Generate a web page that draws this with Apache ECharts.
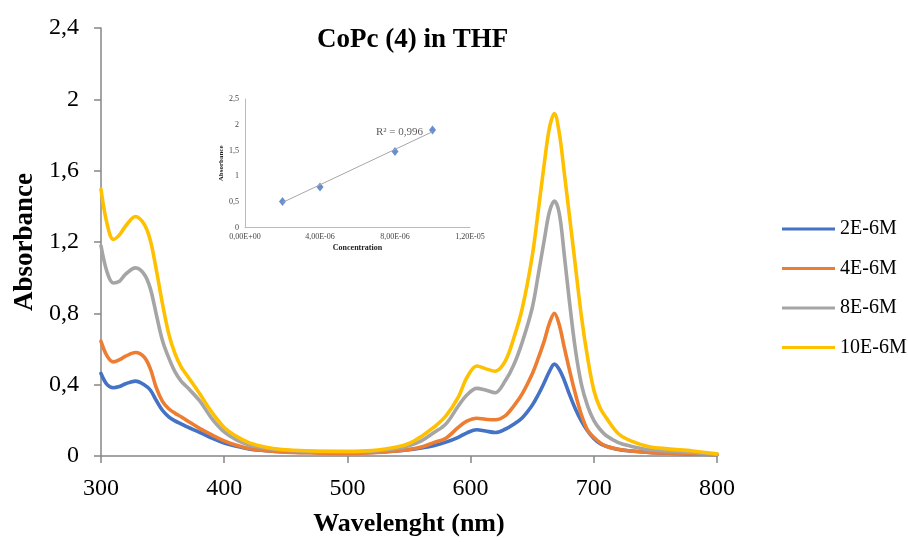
<!DOCTYPE html>
<html>
<head>
<meta charset="utf-8">
<script src="https://cdn.jsdelivr.net/npm/echarts@6/dist/echarts.min.js"></script>
<style>html,body{margin:0;padding:0;background:#fff;}#c{width:908px;height:542px;}</style>
</head>
<body>
<div id="c"></div>
<script>
// Wavelengths (nm)
const wavelengths = [300,305,310,315,320,328,335,340,345,350,355,360,365,370,380,390,400,410,420,430,440,450,470,500,520,540,550,560,570,580,590,597,605,612,620,628,635,642,650,655,660,664,668,672,676,680,685,690,695,700,705,710,720,730,745,760,780,800];
const seriesNames = ['2E-6M','4E-6M','8E-6M','10E-6M'];
const abs2 = [0.463,0.40,0.383,0.39,0.405,0.42,0.40,0.37,0.31,0.255,0.22,0.197,0.18,0.163,0.133,0.10,0.073,0.055,0.04,0.032,0.027,0.024,0.02,0.018,0.02,0.028,0.035,0.045,0.058,0.078,0.105,0.13,0.147,0.14,0.132,0.15,0.178,0.215,0.285,0.345,0.415,0.475,0.515,0.485,0.425,0.35,0.265,0.195,0.14,0.098,0.07,0.055,0.036,0.028,0.02,0.016,0.012,0.008];
const abs4 = [0.643,0.56,0.528,0.54,0.56,0.58,0.555,0.49,0.38,0.305,0.265,0.24,0.22,0.198,0.155,0.118,0.085,0.06,0.042,0.032,0.026,0.022,0.018,0.015,0.018,0.028,0.036,0.05,0.075,0.10,0.16,0.195,0.212,0.206,0.203,0.225,0.28,0.35,0.46,0.55,0.65,0.745,0.80,0.735,0.61,0.49,0.35,0.23,0.145,0.105,0.075,0.055,0.038,0.028,0.02,0.016,0.012,0.008];
const abs8 = [1.179,1.03,0.97,0.98,1.02,1.055,1.02,0.94,0.79,0.645,0.55,0.473,0.42,0.385,0.31,0.21,0.135,0.09,0.062,0.048,0.038,0.032,0.026,0.024,0.027,0.042,0.058,0.085,0.13,0.18,0.28,0.342,0.379,0.37,0.355,0.42,0.51,0.64,0.83,1.02,1.22,1.37,1.43,1.36,1.13,0.88,0.60,0.40,0.28,0.20,0.15,0.115,0.075,0.055,0.035,0.028,0.02,0.01];
const abs10 = [1.495,1.30,1.215,1.24,1.29,1.343,1.30,1.21,1.04,0.85,0.685,0.575,0.50,0.45,0.35,0.245,0.16,0.11,0.075,0.055,0.042,0.035,0.028,0.026,0.03,0.05,0.07,0.11,0.16,0.225,0.33,0.44,0.505,0.49,0.475,0.53,0.66,0.83,1.12,1.38,1.65,1.84,1.92,1.81,1.59,1.36,1.07,0.78,0.55,0.37,0.27,0.215,0.125,0.085,0.052,0.04,0.028,0.012];
const colors = ['#4472C4','#ED7D31','#A5A5A5','#FFC000'];

// Inset calibration data
const concentrations = [2e-6,4e-6,8e-6,1e-5];
const peakAbs = [0.51,0.79,1.48,1.90];
const trendX = [2e-6,1e-5];
const trendY = [0.49,1.865];
const r2Text = 'R² = 0,996';

const font = 'Liberation Serif';
const comma = v => String(v).replace('.', ',');
const sci = v => {
  const parts = v.toExponential(2).split('e');
  const m = parts[0].replace('.', ',');
  let e = parseInt(parts[1], 10);
  const sign = e < 0 ? '-' : '+';
  e = Math.abs(e);
  return m + 'E' + sign + (e < 10 ? '0' + e : e);
};
const allSeries = [abs2, abs4, abs8, abs10];

const chart = echarts.init(document.getElementById('c'));
chart.setOption({
  animation: false,
  title: {
    text: 'CoPc (4) in THF', left: 317, top: 27, padding: 0,
    textStyle: { fontFamily: font, fontWeight: 'bold', fontSize: 27, color: '#000' }
  },
  legend: {
    orient: 'vertical', left: 777, top: 214, icon: 'rect', itemWidth: 53, itemHeight: 3, itemGap: 19.5,
    data: seriesNames,
    textStyle: { fontFamily: font, fontSize: 20, color: '#000' }
  },
  grid: [
    { left: 101, right: 191, top: 28, bottom: 84 },
    { left: 245, width: 225, top: 99, height: 128.7 }
  ],
  xAxis: [
    {
      type: 'value', min: 300, max: 800, interval: 100, gridIndex: 0,
      name: 'Wavelenght (nm)', nameLocation: 'middle', nameGap: 55,
      nameTextStyle: { fontFamily: font, fontWeight: 'bold', fontSize: 26, color: '#000' },
      axisLine: { lineStyle: { color: '#868686', width: 1.5 } },
      axisTick: { show: true, length: 7, lineStyle: { color: '#868686', width: 1.5 } },
      axisLabel: { fontFamily: font, fontSize: 24, color: '#000', margin: 21 },
      splitLine: { show: false }
    },
    {
      type: 'value', min: 0, max: 1.2e-5, interval: 4e-6, gridIndex: 1,
      name: 'Concentration', nameLocation: 'middle', nameGap: 16,
      nameTextStyle: { fontFamily: font, fontWeight: 'bold', fontSize: 8, color: '#222' },
      axisLine: { lineStyle: { color: '#bbb', width: 1 } },
      axisTick: { show: false },
      axisLabel: { fontFamily: font, fontSize: 8, color: '#444', margin: 5, formatter: sci },
      splitLine: { show: false }
    }
  ],
  yAxis: [
    {
      type: 'value', min: 0, max: 2.4, interval: 0.4, gridIndex: 0,
      name: 'Absorbance', nameLocation: 'middle', nameGap: 57,
      nameTextStyle: { fontFamily: font, fontWeight: 'bold', fontSize: 27, color: '#000' },
      axisLine: { show: true, lineStyle: { color: '#868686', width: 1.5 } },
      axisTick: { show: true, length: 7, lineStyle: { color: '#868686', width: 1.5 } },
      axisLabel: { fontFamily: font, fontSize: 24, color: '#000', margin: 22, formatter: v => comma(+v.toFixed(1)) },
      splitLine: { show: false }
    },
    {
      type: 'value', min: 0, max: 2.5, interval: 0.5, gridIndex: 1,
      name: 'Absorbance', nameLocation: 'middle', nameGap: 20,
      nameTextStyle: { fontFamily: font, fontWeight: 'bold', fontSize: 7, color: '#222' },
      axisLine: { show: true, lineStyle: { color: '#bbb', width: 1 } },
      axisTick: { show: false },
      axisLabel: { fontFamily: font, fontSize: 8, color: '#444', margin: 6, formatter: v => comma(v) },
      splitLine: { show: false }
    }
  ],
  series: seriesNames.map((n, i) => ({
    name: n, type: 'line', xAxisIndex: 0, yAxisIndex: 0, smooth: 0.35, symbol: 'none',
    lineStyle: { color: colors[i], width: 3.6, cap: 'round', join: 'round' },
    itemStyle: { color: colors[i] },
    data: wavelengths.map((w, k) => [w, allSeries[i][k]]),
    z: 2 + i
  })).concat([
    {
      name: 'trend', type: 'line', xAxisIndex: 1, yAxisIndex: 1, symbol: 'none',
      lineStyle: { color: '#a6a6a6', width: 1 },
      data: trendX.map((x, k) => [x, trendY[k]])
    },
    {
      name: 'points', type: 'scatter', xAxisIndex: 1, yAxisIndex: 1, symbol: 'diamond', symbolSize: [7, 9],
      itemStyle: { color: '#4472C4' },
      data: concentrations.map((c, k) => [c, peakAbs[k]]),
      label: {
        show: true, position: 'left', distance: 6, offset: [0, 2],
        formatter: p => p.dataIndex === concentrations.length - 1 ? r2Text : '',
        fontFamily: font, fontSize: 11, color: '#333'
      }
    }
  ])
});
</script>
</body>
</html>
